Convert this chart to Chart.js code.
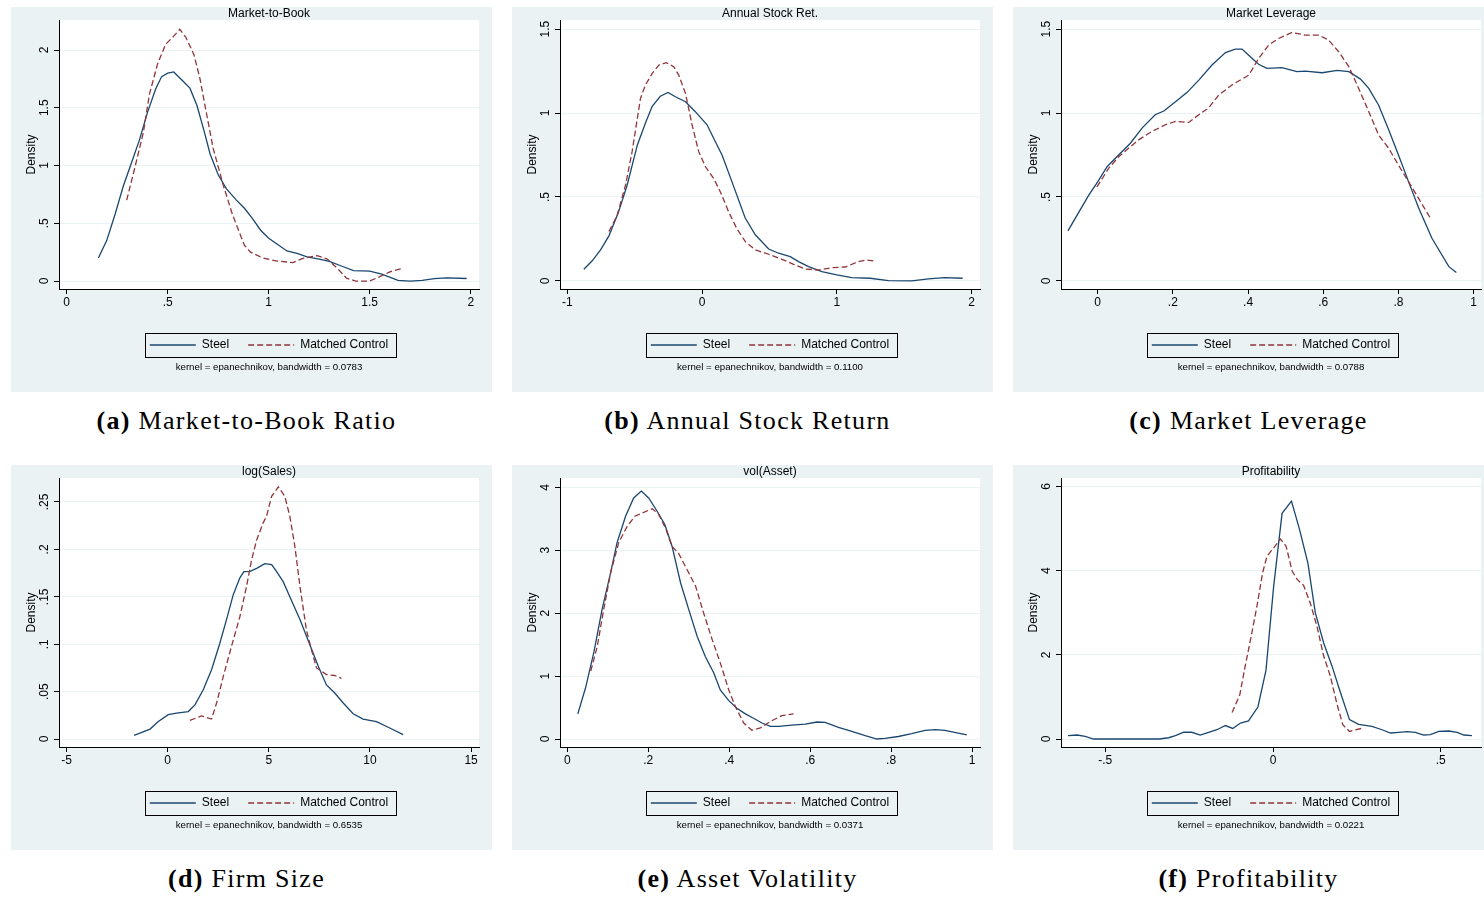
<!DOCTYPE html>
<html>
<head>
<meta charset="utf-8">
<script src="https://cdn.jsdelivr.net/npm/chart.js@4.4.1/dist/chart.umd.min.js"></script>
<style>
  body { margin: 0; background: #fff; width: 1484px; height: 898px; overflow: hidden; position: relative; }
  .panel { position: absolute; width: 481px; height: 385px; background: #eaf2f3; overflow: hidden; }
  .panel canvas { position: absolute; left: 0; top: 0; }
  .cap { position: absolute; width: 481px; height: 30px; line-height: 30px; text-align: center;
         font-family: "Liberation Serif", serif; font-size: 26px; letter-spacing: 1.3px; color: #000; }
</style>
</head>
<body>
<div class="panel" style="left:11px;top:7px"><canvas id="c1" width="516" height="385"></canvas></div>
<div class="panel" style="left:512px;top:7px"><canvas id="c2" width="516" height="385"></canvas></div>
<div class="panel" style="left:1013px;top:7px"><canvas id="c3" width="516" height="385"></canvas></div>
<div class="panel" style="left:11px;top:465px"><canvas id="c4" width="516" height="385"></canvas></div>
<div class="panel" style="left:512px;top:465px"><canvas id="c5" width="516" height="385"></canvas></div>
<div class="panel" style="left:1013px;top:465px"><canvas id="c6" width="516" height="385"></canvas></div>
<div class="cap" style="left:6px;top:406px"><b>(a)</b> Market-to-Book Ratio</div>
<div class="cap" style="left:507px;top:406px"><b>(b)</b> Annual Stock Return</div>
<div class="cap" style="left:1008px;top:406px"><b>(c)</b> Market Leverage</div>
<div class="cap" style="left:6px;top:864px"><b>(d)</b> Firm Size</div>
<div class="cap" style="left:507px;top:864px"><b>(e)</b> Asset Volatility</div>
<div class="cap" style="left:1008px;top:864px"><b>(f)</b> Profitability</div>
<script>
// kernel density estimates, [x, density]

// Market-to-Book
const mbSteel = [[0.157,0.20],[0.198,0.35],[0.24,0.58],[0.28,0.82],[0.32,1.02],[0.36,1.22],[0.40,1.46],[0.44,1.66],[0.47,1.77],[0.50,1.80],[0.53,1.81],[0.57,1.74],[0.61,1.67],[0.645,1.52],[0.68,1.30],[0.71,1.10],[0.75,0.92],[0.79,0.80],[0.84,0.70],[0.88,0.63],[0.92,0.54],[0.96,0.44],[1.00,0.37],[1.05,0.31],[1.09,0.26],[1.14,0.24],[1.19,0.21],[1.25,0.19],[1.30,0.17],[1.36,0.13],[1.42,0.09],[1.50,0.085],[1.56,0.06],[1.64,0.005],[1.70,0],[1.76,0.005],[1.82,0.02],[1.88,0.027],[1.98,0.022]];
const mbControl = [[0.297,0.70],[0.32,0.86],[0.34,1.0],[0.38,1.29],[0.41,1.62],[0.45,1.88],[0.49,2.05],[0.53,2.12],[0.56,2.18],[0.59,2.11],[0.63,1.96],[0.66,1.75],[0.69,1.47],[0.725,1.15],[0.775,0.83],[0.82,0.58],[0.855,0.42],[0.88,0.31],[0.91,0.25],[0.97,0.20],[1.04,0.173],[1.12,0.16],[1.17,0.196],[1.24,0.22],[1.29,0.19],[1.34,0.11],[1.385,0.025],[1.43,0],[1.50,0],[1.55,0.038],[1.60,0.08],[1.665,0.11]];
const mbXTicks = [0, 0.5, 1, 1.5, 2];
const mbYTicks = [0, 0.5, 1, 1.5, 2];
const mbXRange = [-0.038, 2.041];
const mbYRange = [-0.069, 2.26];

// Annual stock return
const retSteel = [[-0.877,0.07],[-0.815,0.12],[-0.753,0.185],[-0.69,0.27],[-0.62,0.41],[-0.556,0.57],[-0.48,0.81],[-0.42,0.94],[-0.37,1.04],[-0.31,1.10],[-0.252,1.123],[-0.198,1.097],[-0.123,1.067],[-0.05,1.008],[0.037,0.93],[0.086,0.85],[0.148,0.75],[0.222,0.59],[0.32,0.375],[0.395,0.275],[0.494,0.19],[0.568,0.165],[0.654,0.145],[0.716,0.115],[0.79,0.085],[0.889,0.056],[1.0,0.036],[1.11,0.02],[1.247,0.016],[1.383,0.002],[1.556,0],[1.68,0.012],[1.80,0.02],[1.933,0.016]];
const retControl = [[-0.691,0.294],[-0.63,0.39],[-0.568,0.57],[-0.519,0.77],[-0.457,1.087],[-0.42,1.167],[-0.37,1.236],[-0.32,1.286],[-0.267,1.30],[-0.21,1.276],[-0.173,1.226],[-0.123,1.117],[-0.074,0.929],[-0.025,0.77],[0.025,0.68],[0.086,0.61],[0.136,0.53],[0.198,0.41],[0.259,0.31],[0.321,0.234],[0.395,0.185],[0.494,0.159],[0.593,0.129],[0.679,0.099],[0.765,0.071],[0.864,0.065],[0.963,0.079],[1.062,0.083],[1.16,0.115],[1.222,0.125],[1.279,0.119]];
const retXTicks = [-1, 0, 1, 2];
const retYTicks = [0, 0.5, 1, 1.5];
const retXRange = [-1.054, 2.062];
const retYRange = [-0.048, 1.554];

// Market leverage
const levSteel = [[-0.079,0.298],[-0.05,0.41],[-0.024,0.51],[0,0.59],[0.025,0.68],[0.051,0.74],[0.087,0.82],[0.118,0.91],[0.153,0.99],[0.176,1.012],[0.207,1.067],[0.238,1.123],[0.269,1.196],[0.304,1.286],[0.34,1.36],[0.366,1.381],[0.384,1.381],[0.406,1.335],[0.428,1.29],[0.45,1.266],[0.49,1.27],[0.53,1.246],[0.552,1.25],[0.597,1.24],[0.637,1.254],[0.668,1.246],[0.699,1.202],[0.721,1.147],[0.747,1.048],[0.774,0.90],[0.80,0.75],[0.827,0.59],[0.854,0.433],[0.889,0.254],[0.934,0.085],[0.954,0.05]];
const levControl = [[-0.002,0.56],[0.029,0.67],[0.056,0.74],[0.082,0.79],[0.109,0.84],[0.144,0.89],[0.18,0.93],[0.207,0.95],[0.242,0.944],[0.269,0.99],[0.295,1.03],[0.322,1.107],[0.357,1.167],[0.402,1.226],[0.428,1.325],[0.455,1.405],[0.481,1.444],[0.517,1.48],[0.552,1.464],[0.588,1.464],[0.614,1.435],[0.641,1.365],[0.668,1.276],[0.694,1.147],[0.721,1.008],[0.747,0.87],[0.774,0.79],[0.80,0.69],[0.827,0.59],[0.854,0.49],[0.885,0.373]];
const levXTicks = [0, 0.2, 0.4, 0.6, 0.8, 1];
const levYTicks = [0, 0.5, 1, 1.5];
const levXRange = [-0.0975, 1.0195];
const levYRange = [-0.048, 1.554];

// log(Sales)
const sizeSteel = [[-1.66,0.0039],[-1.28,0.007],[-0.87,0.0105],[-0.46,0.0186],[0.03,0.0257],[0.44,0.0274],[1.02,0.029],[1.35,0.036],[1.76,0.052],[2.17,0.073],[2.58,0.101],[2.91,0.126],[3.24,0.152],[3.57,0.170],[3.77,0.1765],[4.07,0.1768],[4.4,0.180],[4.8,0.185],[5.14,0.184],[5.38,0.1768],[5.71,0.166],[6.04,0.150],[6.54,0.126],[7.03,0.0995],[7.44,0.077],[7.85,0.057],[8.26,0.0485],[8.68,0.038],[9.17,0.0267],[9.66,0.0211],[10.32,0.0183],[10.98,0.0116],[11.64,0.0046]];
const sizeControl = [[1.1,0.0197],[1.68,0.0243],[2.17,0.0211],[2.42,0.038],[2.75,0.066],[3.16,0.098],[3.57,0.129],[3.9,0.161],[4.15,0.189],[4.4,0.21],[4.72,0.228],[4.89,0.235],[5.14,0.256],[5.47,0.266],[5.79,0.256],[6.04,0.235],[6.29,0.203],[6.54,0.161],[6.86,0.115],[7.11,0.094],[7.36,0.075],[7.85,0.068],[8.26,0.067],[8.59,0.064]];
const sizeXTicks = [-5, 0, 5, 10, 15];
const sizeYTicks = [0, 0.05, 0.1, 0.15, 0.2, 0.25];
const sizeXRange = [-5.37, 15.39];
const sizeYRange = [-0.0084, 0.2753];

// vol(Asset)
const volSteel = [[0.026,0.40],[0.045,0.81],[0.066,1.39],[0.086,2.06],[0.107,2.64],[0.123,3.12],[0.144,3.54],[0.164,3.83],[0.183,3.94],[0.201,3.83],[0.222,3.62],[0.241,3.41],[0.259,3.06],[0.28,2.48],[0.30,2.06],[0.321,1.63],[0.341,1.31],[0.362,1.05],[0.378,0.78],[0.399,0.61],[0.419,0.49],[0.44,0.40],[0.46,0.33],[0.481,0.254],[0.502,0.20],[0.522,0.20],[0.555,0.22],[0.588,0.238],[0.617,0.27],[0.637,0.265],[0.67,0.185],[0.703,0.122],[0.736,0.053],[0.765,0],[0.785,0.01],[0.818,0.04],[0.851,0.085],[0.884,0.138],[0.909,0.148],[0.933,0.138],[0.966,0.095],[0.987,0.064]];
const volControl = [[0.058,1.08],[0.074,1.47],[0.09,2.06],[0.107,2.64],[0.127,3.12],[0.148,3.38],[0.167,3.54],[0.185,3.59],[0.21,3.66],[0.226,3.57],[0.244,3.33],[0.259,3.06],[0.275,2.95],[0.292,2.74],[0.317,2.43],[0.337,2.0],[0.358,1.58],[0.378,1.21],[0.399,0.78],[0.415,0.52],[0.436,0.254],[0.456,0.138],[0.477,0.175],[0.502,0.28],[0.53,0.37],[0.559,0.40]];
const volXTicks = [0, 0.2, 0.4, 0.6, 0.8, 1];
const volYTicks = [0, 1, 2, 3, 4];
const volXRange = [-0.018, 1.0197];
const volYRange = [-0.127, 4.148];

// Profitability
const profSteel = [[-0.611,0.08],[-0.584,0.095],[-0.56,0.063],[-0.535,0],[-0.48,0],[-0.40,0],[-0.34,0],[-0.311,0.03],[-0.291,0.08],[-0.266,0.16],[-0.242,0.16],[-0.217,0.095],[-0.192,0.16],[-0.167,0.22],[-0.142,0.32],[-0.12,0.25],[-0.097,0.38],[-0.073,0.43],[-0.045,0.76],[-0.021,1.63],[0.002,3.63],[0.027,5.36],[0.055,5.65],[0.079,4.98],[0.104,4.18],[0.126,3.0],[0.151,2.28],[0.176,1.73],[0.2,1.13],[0.228,0.46],[0.255,0.35],[0.295,0.30],[0.325,0.22],[0.35,0.143],[0.375,0.158],[0.4,0.174],[0.424,0.158],[0.449,0.095],[0.469,0.103],[0.494,0.182],[0.524,0.19],[0.549,0.158],[0.569,0.095],[0.593,0.08]];
const profControl = [[-0.122,0.63],[-0.099,1.05],[-0.083,1.73],[-0.065,2.44],[-0.048,3.15],[-0.031,3.95],[-0.018,4.34],[0.002,4.54],[0.022,4.75],[0.039,4.58],[0.057,3.99],[0.072,3.79],[0.091,3.65],[0.111,3.23],[0.131,2.68],[0.151,1.97],[0.171,1.49],[0.191,0.82],[0.208,0.34],[0.228,0.18],[0.263,0.25]];
const profXTicks = [-0.5, 0, 0.5];
const profYTicks = [0, 2, 4, 6];
const profXRange = [-0.632, 0.62];
const profYRange = [-0.19, 6.20];

const navy = '#1a476f';
const maroon = '#90353b';
const bgColor = '#eaf2f3';
const family = '"Liberation Sans", Arial, sans-serif';

// Stata style numbers: .5 instead of 0.5
const fmt = v => String(v).replace(/^(-?)0\./, '$1.');

const measure = document.createElement('canvas').getContext('2d');
measure.font = '12px ' + family;

const plotBackground = {
  id: 'plotBackground',
  beforeDraw(chart) {
    const { ctx, chartArea: a } = chart;
    ctx.save();
    ctx.fillStyle = '#fff';
    ctx.fillRect(a.left, a.top, a.right - a.left, a.bottom - a.top);
    ctx.restore();
  }
};

const legendFrame = {
  id: 'legendFrame',
  afterDraw(chart) {
    const hb = chart.legend.legendHitBoxes;
    const first = hb[0], last = hb[hb.length - 1];
    const ctx = chart.ctx;
    const left = Math.round(first.left - 5) + 0.5;
    const top = Math.round(first.top - 6) + 0.5;
    const right = Math.round(last.left + last.width + 8) + 0.5;
    ctx.save();
    ctx.strokeStyle = '#000';
    ctx.lineWidth = 1;
    ctx.strokeRect(left, top, right - left, 24);
    ctx.restore();
  }
};

function densityChart(id, title, note, steel, control, xTicks, yTicks, xRange, yRange) {
  const widest = Math.max(...yTicks.map(v => measure.measureText(fmt(v)).width));
  new Chart(document.getElementById(id), {
    type: 'line',
    data: {
      datasets: [
        {
          label: 'Steel',
          data: steel.map(([x, y]) => ({ x, y })),
          borderColor: navy,
          borderWidth: 1.3,
          pointRadius: 0,
          tension: 0,
          order: 2
        },
        {
          label: 'Matched Control',
          data: control.map(([x, y]) => ({ x, y })),
          borderColor: maroon,
          borderWidth: 1.3,
          borderDash: [6, 3],
          pointRadius: 0,
          tension: 0,
          order: 1
        }
      ]
    },
    options: {
      responsive: false,
      animation: false,
      events: [],
      scales: {
        x: {
          type: 'linear',
          min: xRange[0],
          max: xRange[1],
          afterBuildTicks: s => { s.ticks = xTicks.map(value => ({ value })); },
          afterFit: s => { s.height = 31; },
          ticks: { callback: v => fmt(v), color: '#000', font: { family, size: 12 }, padding: 1, maxRotation: 0, autoSkip: false },
          grid: { drawOnChartArea: false, tickLength: 5, tickColor: '#000' },
          border: { color: '#000', width: 1 }
        },
        y: {
          type: 'linear',
          position: 'left',
          min: yRange[0],
          max: yRange[1],
          afterBuildTicks: s => { s.ticks = yTicks.map(value => ({ value })); },
          afterFit: s => { s.width = 48; s.paddingTop = 0; s.paddingBottom = 0; },
          title: { display: true, text: 'Density', color: '#000', font: { family, size: 12, lineHeight: 1.2 }, padding: { top: 13, bottom: 0 } },
          ticks: {
            callback: v => fmt(v), color: '#000', font: { family, size: 12 },
            minRotation: 90, maxRotation: 90, crossAlign: 'center',
            padding: 9 - widest / 2
          },
          grid: { color: bgColor, lineWidth: 1, tickLength: 5, tickColor: '#000' },
          border: { color: '#000', width: 1 }
        },
        yr: {
          type: 'linear',
          position: 'right',
          afterFit: s => { s.width = 48; },
          ticks: { display: false },
          grid: { display: false },
          border: { display: false }
        }
      },
      plugins: {
        tooltip: { enabled: false },
        title: {
          display: true, text: title, color: '#000',
          font: { family, size: 12, weight: 'normal', lineHeight: 1 },
          padding: { top: 0.5, bottom: 0.5 }
        },
        subtitle: {
          display: true, position: 'bottom', text: note, color: '#000',
          font: { family, size: 9.7, weight: 'normal', lineHeight: 1 },
          padding: { top: 1.5, bottom: 19.8 }
        },
        legend: {
          position: 'bottom',
          labels: {
            usePointStyle: true,
            pointStyleWidth: 46,
            padding: 19,
            color: '#000',
            font: { family, size: 12 },
            generateLabels: chart => chart.data.datasets.map((d, i) => ({
              text: d.label,
              datasetIndex: i,
              hidden: false,
              pointStyle: 'line',
              fillStyle: d.borderColor,
              strokeStyle: d.borderColor,
              lineWidth: 1.3,
              lineDash: d.borderDash || [],
              fontColor: '#000'
            }))
          }
        }
      }
    },
    plugins: [plotBackground, legendFrame]
  });
}

densityChart('c1', 'Market-to-Book', 'kernel = epanechnikov, bandwidth = 0.0783', mbSteel, mbControl, mbXTicks, mbYTicks, mbXRange, mbYRange);
densityChart('c2', 'Annual Stock Ret.', 'kernel = epanechnikov, bandwidth = 0.1100', retSteel, retControl, retXTicks, retYTicks, retXRange, retYRange);
densityChart('c3', 'Market Leverage', 'kernel = epanechnikov, bandwidth = 0.0788', levSteel, levControl, levXTicks, levYTicks, levXRange, levYRange);
densityChart('c4', 'log(Sales)', 'kernel = epanechnikov, bandwidth = 0.6535', sizeSteel, sizeControl, sizeXTicks, sizeYTicks, sizeXRange, sizeYRange);
densityChart('c5', 'vol(Asset)', 'kernel = epanechnikov, bandwidth = 0.0371', volSteel, volControl, volXTicks, volYTicks, volXRange, volYRange);
densityChart('c6', 'Profitability', 'kernel = epanechnikov, bandwidth = 0.0221', profSteel, profControl, profXTicks, profYTicks, profXRange, profYRange);
</script>
</body>
</html>
